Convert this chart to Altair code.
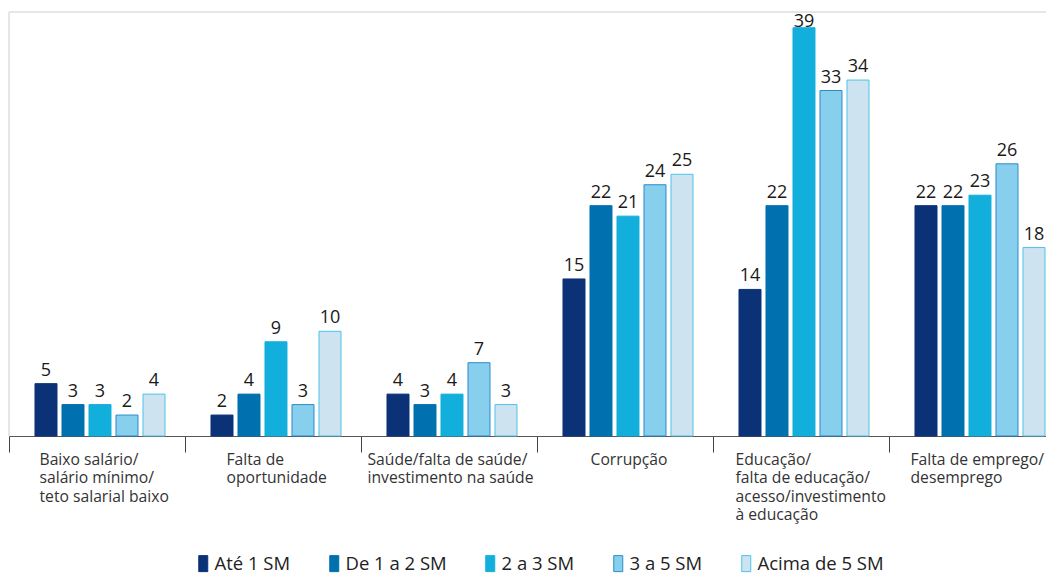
import json
import altair as alt
import pandas as pd

categories = [
    "Baixo salário/|salário mínimo/|teto salarial baixo",
    "Falta de|oportunidade",
    "Saúde/falta de saúde/|investimento na saúde",
    "Corrupção",
    "Educação/|falta de educação/|acesso/investimento|à educação",
    "Falta de emprego/|desemprego",
]
series = ["Até 1 SM", "De 1 a 2 SM", "2 a 3 SM", "3 a 5 SM", "Acima de 5 SM"]
ate_1 = [5, 2, 4, 15, 14, 22]
de_1_a_2 = [3, 4, 3, 22, 22, 22]
de_2_a_3 = [3, 9, 4, 21, 39, 23]
de_3_a_5 = [2, 3, 7, 24, 33, 26]
acima_5 = [4, 10, 3, 25, 34, 18]

fill_colors = ["#0b3277", "#0070ae", "#13afdc", "#88cfee", "#cde4f0"]
stroke_colors = ["#0b3277", "#0070ae", "#13afdc", "#2a8cc9", "#4cc2ea"]

rows = []
for s, vals in zip(series, [ate_1, de_1_a_2, de_2_a_3, de_3_a_5, acima_5]):
    for c, v in zip(categories, vals):
        rows.append({"category": c, "series": s, "value": v})
df = pd.DataFrame(rows)

FONT = "Open Sans"
W, H = 1037, 424
label_shift = [-58, -47, -82, -35, -66, -67]
offset_expr = f"{json.dumps(label_shift)}[indexof({json.dumps(categories, ensure_ascii=False)}, datum.value)]"

x_enc = alt.X(
    "category:N",
    sort=categories,
    title=None,
    scale=alt.Scale(domain=categories, range=[0, 1056], paddingInner=0, paddingOuter=0),
    axis=alt.Axis(
        labelExpr="split(datum.label, '|')",
        labelAlign="left",
        labelBaseline="top",
        labelOffset=alt.ExprRef(expr=offset_expr),
        labelFont=FONT,
        labelFontSize=15.7,
        labelColor="#333333",
        labelLineHeight=18.5,
        labelPadding=0,
        labelLimit=400,
        labelOverlap=False,
        labelAngle=0,
        tickBand="extent",
        tickSize=16,
        tickColor="#444444",
        domainColor="#555555",
        grid=False,
    ),
)
xoff_enc = alt.XOffset(
    "series:N",
    sort=series,
    scale=alt.Scale(domain=series, paddingInner=0.185, paddingOuter=0.852, align=0.565),
)
y_scale = alt.Scale(domain=[0, 40.5], nice=False, zero=True)

legend_cfg = dict(
    orient="none",
    legendX=185,
    legendY=542,
    direction="horizontal",
    title=None,
    symbolType="M-0.5625,-1L0.5625,-1L0.5625,1L-0.5625,1Z",
    symbolSize=256,
    symbolStrokeWidth=1,
    labelFont=FONT,
    labelFontSize=18.5,
    labelColor="#222222",
    labelOffset=2,
    columnPadding=34,
    padding=0,
)

base = alt.Chart(df).encode(x=x_enc, xOffset=xoff_enc)

bars = base.mark_bar(strokeWidth=1).encode(
    y=alt.Y("value:Q", scale=y_scale, axis=None),
    fill=alt.Fill("series:N", sort=series, scale=alt.Scale(domain=series, range=fill_colors),
                  legend=alt.Legend(**legend_cfg)),
    stroke=alt.Stroke("series:N", sort=series, scale=alt.Scale(domain=series, range=stroke_colors),
                      legend=alt.Legend(**legend_cfg)),
)

labels = base.transform_calculate(ly="min(datum.value, 38.35)").mark_text(
    dy=-8, baseline="alphabetic", font=FONT, fontSize=18, color="#1a1a1a"
).encode(
    y=alt.Y("ly:Q", scale=y_scale, axis=None),
    text=alt.Text("value:Q"),
)

frame_src = alt.Chart(pd.DataFrame({"k": [0]}))
top_line = frame_src.mark_rule(color="#dedede", strokeWidth=1.5).encode(
    x=alt.value(0), x2=alt.value(W), y=alt.value(0)
)
left_line = frame_src.mark_rule(color="#dedede", strokeWidth=1.5).encode(
    x=alt.value(0), y=alt.value(0), y2=alt.value(H)
)

chart = (
    alt.layer(top_line, left_line, bars, labels)
    .properties(
        width=W,
        height=H,
        padding={"left": 1, "top": 4, "right": 0, "bottom": 137},
        autosize="none",
    )
    .configure_view(stroke=None)
)

chart.save("out.html", embed_options={"renderer": "svg", "actions": False})
